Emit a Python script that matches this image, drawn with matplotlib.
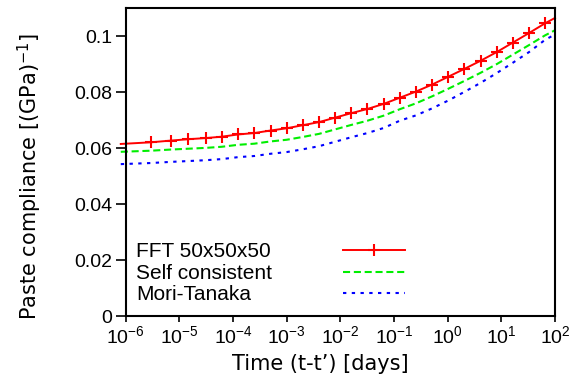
import matplotlib
matplotlib.use("Agg")
import matplotlib.pyplot as plt
from matplotlib.lines import Line2D

plt.rcParams['font.family'] = ['Liberation Sans', 'DejaVu Sans']
plt.rcParams['mathtext.fontset'] = 'custom'
plt.rcParams['mathtext.rm'] = 'Liberation Sans'
plt.rcParams['mathtext.it'] = 'Liberation Sans:italic'
plt.rcParams['font.size'] = 14

# Data (time in days, compliance in 1/GPa)
time_days = [8.1e-7, 3.0e-6, 6.9e-6, 1.47e-5, 3.1e-5, 6.2e-5, 1.25e-4, 2.5e-4, 5e-4,
             1e-3, 2e-3, 4e-3, 8e-3, 0.016, 0.032, 0.064, 0.128, 0.256, 0.512,
             1.024, 2.048, 4.096, 8.192, 16.384, 32.768, 65.536, 100]
fft = [0.0616, 0.0622, 0.0628, 0.0633, 0.0637, 0.0642, 0.0650, 0.0655, 0.0664,
       0.0672, 0.0683, 0.0694, 0.0710, 0.0726, 0.0741, 0.0759, 0.0781, 0.0803, 0.0828,
       0.0856, 0.0884, 0.0913, 0.0944, 0.0978, 0.1012, 0.1047, 0.1066]
self_consistent = [0.0588, 0.0592, 0.0596, 0.0599, 0.0602, 0.0606, 0.0613, 0.0617, 0.0625,
                   0.0631, 0.0641, 0.0652, 0.0668, 0.0684, 0.0699, 0.0717, 0.0740, 0.0761, 0.0786,
                   0.0813, 0.0841, 0.0870, 0.0901, 0.0935, 0.0969, 0.1004, 0.1022]
mori_tanaka = [0.0544, 0.0548, 0.0552, 0.0555, 0.0558, 0.0562, 0.0569, 0.0573, 0.0581,
               0.0587, 0.0597, 0.0608, 0.0624, 0.0640, 0.0655, 0.0673, 0.0699, 0.0718, 0.0743,
               0.0771, 0.0802, 0.0834, 0.0869, 0.0906, 0.0944, 0.0988, 0.1007]
labels = ['FFT 50x50x50', 'Self consistent', 'Mori-Tanaka']
y_ticks = [0, 0.02, 0.04, 0.06, 0.08, 0.1]
y_ticklabels = ['0', '0.02', '0.04', '0.06', '0.08', '0.1']

fig = plt.figure(figsize=(5.71, 3.82), dpi=100)
ax = fig.add_axes([0.2201, 0.1715, 0.972 - 0.2201, 0.978 - 0.1715])

red_kw = dict(color='#ff0000', lw=1.4, marker='+', ms=8, mew=1.5)
green_kw = dict(color='#00ee00', lw=1.5, ls=(0, (3.4, 1.8)))
blue_kw = dict(color='#0000ff', lw=1.5, ls=(0, (1.6, 2.6)))

ax.plot(time_days, mori_tanaka, clip_on=False, **blue_kw)
ax.plot(time_days, self_consistent, clip_on=False, **green_kw)
ax.plot(time_days, fft, clip_on=False, markevery=slice(1, -1), **red_kw)

ax.set_xscale('log')
ax.set_xlim(1e-6, 1e2)
ax.set_ylim(0, 0.11)
ax.set_yticks(y_ticks)
ax.set_yticklabels(y_ticklabels)
ax.set_xticks([10.0 ** k for k in range(-6, 3)])

for s in ax.spines.values():
    s.set_linewidth(1.5)
ax.tick_params(axis='y', which='major', direction='out', length=7, width=1.2,
               labelsize=14, pad=2.5)
ax.tick_params(axis='x', which='major', direction='out', length=4, width=1.2,
               labelsize=14, pad=2.5)
ax.tick_params(axis='x', which='minor', direction='out', length=2.5, width=1.0)
ax.tick_params(axis='y', which='minor', left=False)

lab_font = ['DejaVu Sans']
ax.set_xlabel('Time (t-t\u2019) [days]', fontsize=15, family=lab_font,
              ha='left', va='center')
ax.set_ylabel(r'Paste compliance [(GPa)$^{\mathdefault{-1}}$]', fontsize=15,
              family=lab_font, va='center', ha='center')
ax.xaxis.set_label_coords((232 - 125.7) / 429.3, -(364 - 316.5) / 308.2)
ax.yaxis.set_label_coords((30 - 125.7) / 429.3, -(176 - 316.5) / 308.2)

# Legend: labels column and handles column
proxies = [Line2D([], [], **red_kw), Line2D([], [], **green_kw), Line2D([], [], **blue_kw)]
blank = [Line2D([], [], alpha=0) for _ in labels]
legA = ax.legend(blank, labels, loc='center left', bbox_to_anchor=(0.024, 0.14),
                 frameon=False, handlelength=0, handletextpad=0, borderpad=0,
                 borderaxespad=0, labelspacing=0.12, fontsize=15)
ax.add_artist(legA)
ax.legend(proxies, ['', '', ''], loc='center left', bbox_to_anchor=(0.506, 0.14),
          frameon=False, handlelength=2.98, handletextpad=0, borderpad=0,
          borderaxespad=0, labelspacing=0.12, fontsize=15, numpoints=1)

fig.savefig('out.png', dpi=100)
